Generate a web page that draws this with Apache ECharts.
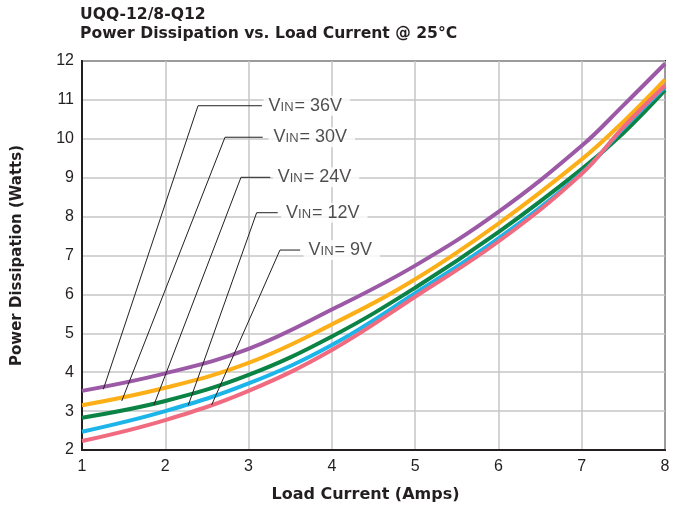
<!DOCTYPE html>
<html>
<head>
<meta charset="utf-8">
<script src="https://cdn.jsdelivr.net/npm/echarts@6/dist/echarts.min.js"></script>
<style>
html,body{margin:0;padding:0;background:#fff;}
#chart{width:678px;height:510px;}
</style>
</head>
<body>
<div id="chart"></div>
<script>
// Load current (A)
var loadCurrent = [1, 2, 3, 4, 5, 6, 7, 7.5, 8];
// Power dissipation (W) per input voltage
var vin36 = [3.52, 3.97, 4.60, 5.61, 6.74, 8.12, 9.82, 10.86, 11.93];
var vin30 = [3.15, 3.60, 4.24, 5.23, 6.39, 7.82, 9.47, 10.44, 11.52];
var vin24 = [2.83, 3.26, 3.93, 4.92, 6.17, 7.60, 9.22, 10.15, 11.25];
var vin12 = [2.47, 3.00, 3.71, 4.70, 6.03, 7.44, 9.12, 10.27, 11.33];
var vin9  = [2.23, 2.77, 3.52, 4.57, 5.94, 7.36, 9.10, 10.30, 11.37];
var seriesNames = ['36V', '30V', '24V', '12V', '9V'];
var xTicks = [1, 2, 3, 4, 5, 6, 7, 8];
var yTicks = [2, 3, 4, 5, 6, 7, 8, 9, 10, 11, 12];
// Callout leader lines (data coords): curve point, elbow, end of horizontal, text anchor
var calloutCurve = [[1.256, 3.56], [1.477, 3.26], [1.864, 3.16], [2.276, 3.15], [2.557, 3.16]];
var calloutElbow = [[2.393, 10.85], [2.717, 10.04], [2.909, 9.01], [3.097, 8.10], [3.377, 7.14]];
var calloutEnd   = [3.16, 3.17, 3.26, 3.35, 3.62];
var calloutText  = [3.18, 3.24, 3.29, 3.39, 3.66];

var colors = ['#9b59a6', '#fcaf17', '#0a8345', '#1cb5ea', '#f06b80'];
var values = [vin36, vin30, vin24, vin12, vin9];
var FONT = '"Liberation Sans", Arial, Helvetica, sans-serif';
var BOLDFONT = '"DejaVu Sans", "Liberation Sans", Arial, sans-serif';
var INK = '#231f20';

var series = [];
values.forEach(function (vals, i) {
  series.push({
    name: seriesNames[i],
    type: 'line',
    smooth: 0.4,
    symbol: 'none',
    silent: true,
    z: 3 + i,
    lineStyle: { color: colors[i], width: 4 },
    data: loadCurrent.map(function (x, k) { return [x, vals[k]]; })
  });
});
seriesNames.forEach(function (n, i) {
  series.push({
    type: 'line',
    symbol: 'none',
    silent: true,
    z: 10,
    lineStyle: { color: INK, width: 1 },
    data: [calloutCurve[i], calloutElbow[i], [calloutEnd[i], calloutElbow[i][1]]]
  });
  series.push({
    type: 'scatter',
    symbolSize: 0,
    silent: true,
    z: 11,
    data: [[calloutText[i], calloutElbow[i][1]]],
    label: {
      show: true,
      position: 'right',
      distance: 0,
      formatter: '{v|V}{s|IN}{v|= ' + n + '}',
      backgroundColor: '#ffffff',
      padding: [1, 8, 1, 5],
      rich: {
        v: { fontFamily: FONT, fontSize: 18, color: INK },
        s: { fontFamily: FONT, fontSize: 13, color: INK, padding: [3, 1, 0, 0] }
      }
    }
  });
});

var chart = echarts.init(document.getElementById('chart'), null, { renderer: 'canvas' });
chart.setOption({
  animation: false,
  backgroundColor: '#ffffff',
  title: {
    text: 'UQQ-12/8-Q12\nPower Dissipation vs. Load Current @ 25°C',
    left: 75,
    top: 0,
    textStyle: { fontFamily: BOLDFONT, fontSize: 15.6, fontWeight: 'bold', color: INK, lineHeight: 19 }
  },
  grid: {
    left: 82, right: 13, top: 61, bottom: 60,
    show: true, borderColor: INK, borderWidth: 2, containLabel: false
  },
  xAxis: {
    type: 'value',
    min: xTicks[0], max: xTicks[xTicks.length - 1], interval: 1,
    name: 'Load Current (Amps)',
    nameLocation: 'middle',
    nameGap: 37,
    nameTextStyle: { fontFamily: BOLDFONT, fontSize: 16, fontWeight: 'bold', color: INK, padding: [0, 16, 0, 0] },
    axisLine: { show: true, lineStyle: { color: INK, width: 2 } },
    axisTick: { show: false },
    axisLabel: { fontFamily: FONT, fontSize: 16, color: INK, margin: 9 },
    splitLine: { show: true, lineStyle: { color: '#c6c6c6', width: 1.5 } }
  },
  yAxis: {
    type: 'value',
    min: yTicks[0], max: yTicks[yTicks.length - 1], interval: 1,
    name: 'Power Dissipation (Watts)',
    nameLocation: 'middle',
    nameGap: 57,
    nameTextStyle: { fontFamily: BOLDFONT, fontSize: 15, fontWeight: 'bold', color: INK },
    axisLine: { show: true, lineStyle: { color: INK, width: 2 } },
    axisTick: { show: false },
    axisLabel: { fontFamily: FONT, fontSize: 16, color: INK, margin: 8 },
    splitLine: { show: true, lineStyle: { color: '#c6c6c6', width: 1.5 } }
  },
  series: series
});
</script>
</body>
</html>
